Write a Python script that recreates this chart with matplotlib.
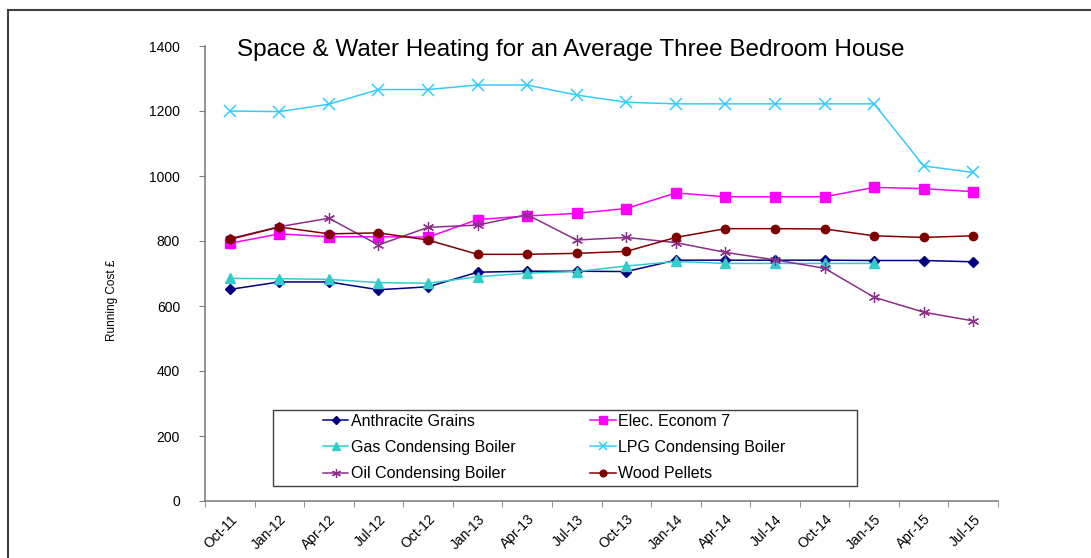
import numpy as np
import matplotlib
matplotlib.use("Agg")
import matplotlib.pyplot as plt
from matplotlib.lines import Line2D
from matplotlib.patches import Rectangle

plt.rcParams['font.family'] = ['Liberation Sans', 'DejaVu Sans']

# Quarterly running costs (GBP)
quarters = ['Oct-11', 'Jan-12', 'Apr-12', 'Jul-12', 'Oct-12', 'Jan-13', 'Apr-13', 'Jul-13',
            'Oct-13', 'Jan-14', 'Apr-14', 'Jul-14', 'Oct-14', 'Jan-15', 'Apr-15', 'Jul-15']
anthracite = [651, 674, 674, 650, 659, 704, 707, 707, 706, 741, 741, 741, 741, 740, 740, 736]
elec_e7 = [793, 822, 813, 813, 812, 866, 877, 885, 900, 948, 936, 936, 936, 965, 961, 952]
gas = [685, 684, 682, 672, 670, 690, 701, 706, 723, 737, 731, 731, 731, 731, np.nan, np.nan]
lpg = [1200, 1198, 1221, 1266, 1266, 1280, 1280, 1249, 1227, 1222, 1222, 1222, 1222, 1222, 1031, 1011]
oil = [807, 844, 870, 788, 842, 849, 881, 803, 811, 795, 765, 742, 716, 627, 581, 554]
wood = [805, 843, 822, 825, 803, 759, 759, 762, 768, 811, 838, 838, 837, 816, 811, 816]

fig = plt.figure(figsize=(10.91, 5.58), dpi=100)
ax = fig.add_axes([205 / 1091, 1 - 501 / 558, 793 / 1091, 455 / 558])

x = np.arange(len(quarters))
lw = 1.1
h_anth, = ax.plot(x, anthracite, color='#000080', lw=lw, marker='D', ms=5, label='Anthracite Grains')
h_elec, = ax.plot(x, elec_e7, color='#FF00FF', lw=lw, marker='s', ms=7, label='Elec. Econom 7')
h_gas, = ax.plot(x, gas, color='#33CCCC', lw=lw, marker='^', ms=7, label='Gas Condensing Boiler')
h_lpg, = ax.plot(x, lpg, color='#33CCFF', lw=lw, marker='x', ms=8, mew=1.1, label='LPG Condensing Boiler')
h_oil, = ax.plot(x, oil, color='#8B2F8B', lw=lw, marker=(6, 2, 0), ms=8, mew=0.9, label='Oil Condensing Boiler')
h_wood, = ax.plot(x, wood, color='#800000', lw=lw, marker='o', ms=6, label='Wood Pellets')

ax.set_xlim(-0.5, len(quarters) - 0.5)
ax.set_ylim(0, 1400)
ax.set_yticks(range(0, 1401, 200))
ax.set_xticks(x)
ax.set_xticklabels(quarters, rotation=45, ha='right', rotation_mode='anchor', fontsize=10)
ax.set_xticks(np.arange(-0.5, len(quarters)), minor=True)
ax.tick_params(axis='x', which='major', length=0, pad=8)
ax.tick_params(axis='x', which='minor', length=4, color='#808080', direction='out')
ax.tick_params(axis='y', length=4, color='#808080', labelsize=10, pad=14)

for s in ['top', 'right']:
    ax.spines[s].set_visible(False)
for s in ['left', 'bottom']:
    ax.spines[s].set_color('#808080')
    ax.spines[s].set_linewidth(1.2)

fig.text(112 / 1091, 1 - 300 / 558, 'Running Cost £', rotation=90, ha='center', va='center', fontsize=8.5)
fig.text(571 / 1091, 1 - 50 / 558, 'Space & Water Heating for an Average Three Bedroom House',
         ha='center', va='center', fontsize=17.5)

# legend box
ax.add_patch(Rectangle(((273 - 205) / 793, (501 - 486) / 455), 584 / 793, 76 / 455,
                       transform=ax.transAxes, fill=False, edgecolor='#404040', lw=1.0, zorder=5))
# row-major order like the original: fill columns in matplotlib's column-major way
handles = [h_anth, h_gas, h_oil, h_elec, h_lpg, h_wood]
ax.legend(handles=handles, loc='upper left', bbox_to_anchor=((318 - 205) / 793, (501 - 409) / 455),
          ncol=2, frameon=False, fontsize=11.5, handlelength=1.6, handletextpad=0.15,
          columnspacing=4.7, labelspacing=0.7, borderaxespad=0, borderpad=0.3, markerscale=0.8)

# outer frame of the chart object
fig.add_artist(Line2D([8 / 1091, 8 / 1091], [0, 1 - 10 / 558], color='#404040', lw=1.5))
fig.add_artist(Line2D([8 / 1091, 1], [1 - 10 / 558, 1 - 10 / 558], color='#404040', lw=1.5))

fig.savefig('out.png', dpi=100)
